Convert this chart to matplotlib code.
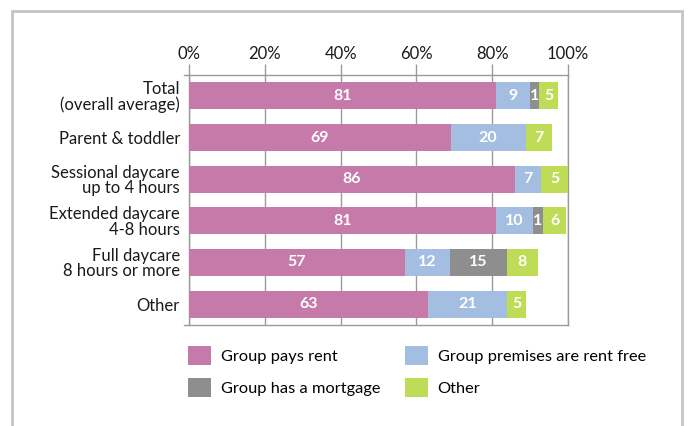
import matplotlib.pyplot as plt
from matplotlib.patches import Rectangle, Patch
import numpy as np

plt.rcParams['font.family'] = ['Lato', 'DejaVu Sans']

# data (segment lengths as drawn, labels as printed on the bars)
categories = ['Total\n(overall average)', 'Parent & toddler',
              'Sessional daycare\nup to 4 hours', 'Extended daycare\n4-8 hours',
              'Full daycare\n8 hours or more', 'Other']
pays_rent = [81, 69, 86, 81, 57, 63]
rent_free = [9, 19.8, 6.9, 9.8, 11.9, 20.9]
mortgage = [2.3, 0, 0, 2.6, 15, 0]
other = [5.1, 7.1, 7.1, 6.1, 8.1, 5.1]
pays_rent_lbl = ['81', '69', '86', '81', '57', '63']
rent_free_lbl = ['9', '20', '7', '10', '12', '21']
mortgage_lbl = ['1', '', '', '1', '15', '']
other_lbl = ['5', '7', '5', '6', '8', '5']
series_names = ['Group pays rent', 'Group premises are rent free',
                'Group has a mortgage', 'Other']
colors = ['#c67aaa', '#a3bee0', '#8e8e8e', '#bedc55']
ticks = [0, 20, 40, 60, 80, 100]

fig = plt.figure(figsize=(6.88, 4.26), dpi=100)
ax = fig.add_axes([189/688, 1-325/426, 379/688, 250/426])

# outer frame
fig.patches.append(Rectangle((12/688, -0.1), 670/688, 1.1 - 11/426,
                             transform=fig.transFigure, fill=False,
                             edgecolor='#c4c4c4', linewidth=2))

y = np.arange(len(categories))
series = [pays_rent, rent_free, mortgage, other]
labels = [pays_rent_lbl, rent_free_lbl, mortgage_lbl, other_lbl]
left = np.zeros(len(categories))
for vals, lbls, col in zip(series, labels, colors):
    vals = np.array(vals)
    ax.barh(y, vals, left=left, height=0.65, color=col, zorder=3)
    for yi, (l, v, t) in enumerate(zip(left, vals, lbls)):
        if v > 0:
            ax.text(l + v/2, yi, t, ha='center', va='center',
                    color='white', fontsize=11.5, fontweight='bold', zorder=4)
    left = left + vals

ax.set_xlim(0, 100)
ax.set_ylim(len(categories) - 0.5, -0.5)
ax.set_yticks(y)
ax.set_yticklabels(categories, fontsize=12, linespacing=0.95, color='#1a1a1a')
ax.xaxis.tick_top()
ax.set_xticks(ticks)
ax.set_xticklabels([f'{t}%' for t in ticks], fontsize=12, color='#1a1a1a')
ax.tick_params(axis='x', length=8, width=1, color='#9a9a9a', pad=1.5)
ax.tick_params(axis='y', length=0, pad=6.5)
ax.grid(axis='x', color='#9a9a9a', linewidth=1, zorder=0)
for s in ax.spines.values():
    s.set_color('#9a9a9a')
    s.set_linewidth(1)
ax.spines['top'].set_bounds(-1.2, 100)
ax.spines['bottom'].set_bounds(-1.2, 100)
ax.spines['top'].set_clip_on(False)
ax.spines['bottom'].set_clip_on(False)

order = [0, 2, 1, 3]
handles = [Patch(facecolor=colors[i], label=series_names[i]) for i in order]
fig.legend(handles=handles, loc='upper left',
           bbox_to_anchor=(188/688, 1-346/426), ncol=2, frameon=False,
           fontsize=11.8, handlelength=1.4, handleheight=1.4,
           handletextpad=0.6, labelspacing=0.8, columnspacing=1.5,
           borderpad=0, borderaxespad=0)

fig.savefig('out.png', dpi=100)
